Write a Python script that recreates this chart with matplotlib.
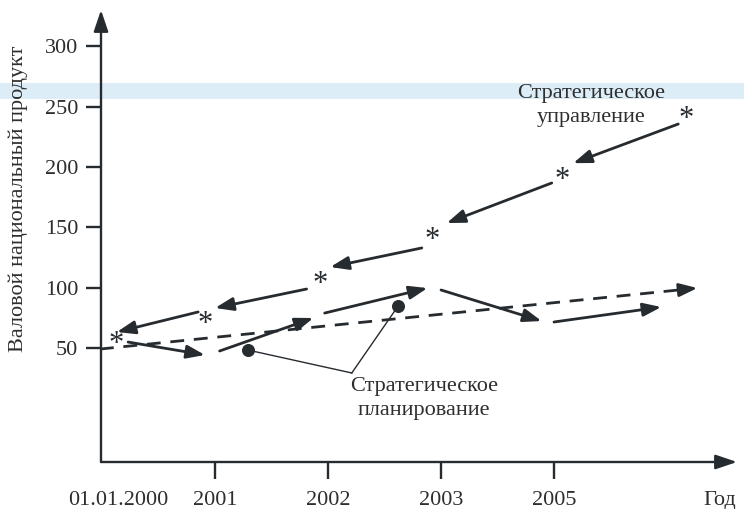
import matplotlib
matplotlib.use("Agg")
import matplotlib.pyplot as plt
from matplotlib.patches import Rectangle

# ---- data (schematic values) ----
x_tick_pos = [1, 2, 3, 4]
x_tick_labels = ["2001", "2002", "2003", "2005"]
x_edge_pos = [0.14, 5.47]
x_edge_labels = ["01.01.2000", "Год"]
y_ticks = [50, 100, 150, 200, 250, 300]

# strategic management: asterisk points and backward arrows
mgmt_star_x = [0.12, 0.91, 1.93, 2.92, 4.07, 5.17]
mgmt_star_y = [56, 72.5, 105.6, 142, 191.7, 242]
mgmt_arrow_x0 = [5.10, 3.98, 2.83, 1.81, 0.85]
mgmt_arrow_y0 = [235.6, 186.8, 133.0, 99.0, 80.0]
mgmt_arrow_x1 = [4.17, 3.05, 2.02, 1.00, 0.13]
mgmt_arrow_y1 = [203.2, 153.6, 117.2, 83.3, 63.4]

# strategic planning: forward arrows
plan_arrow_x0 = [0.23, 1.04, 1.97, 3.00, 4.00]
plan_arrow_y0 = [55.1, 47.7, 79.1, 98.2, 71.7]
plan_arrow_x1 = [0.91, 1.87, 2.88, 3.89, 4.95]
plan_arrow_y1 = [44.4, 75.0, 99.8, 72.5, 84.1]

# dashed trend
trend_x = [-0.02, 5.27]
trend_y = [49.3, 99.8]

# callout for planning
dot_x = [1.29, 2.62]
dot_y = [48.5, 84.9]
callout_x = 2.21
callout_y = 29.5

XLIM = (-0.01, 5.62)
YLIM = (-44.2, 330)

dark = "#262b30"
txt = "#2e2e2e"
FONT = "Liberation Serif"
FS = 16
plt.rcParams["font.family"] = [FONT, "DejaVu Serif"]

fig = plt.figure(figsize=(7.44, 5.09), dpi=100)
fig.patch.set_facecolor("white")

# watermark band (behind everything)
band = Rectangle((0, (509 - 99) / 509), 1, 16 / 509, transform=fig.transFigure,
                 facecolor="#dcedf7", edgecolor="none", zorder=-10)
fig.patches.append(band)

ax = fig.add_axes([101 / 744, (509 - 462) / 509, (737 - 101) / 744, (462 - 10) / 509])
ax.set_zorder(1)
ax.set_facecolor("none")
ax.set_xlim(*XLIM)
ax.set_ylim(*YLIM)
for s in ax.spines.values():
    s.set_visible(False)

axis_arrow = dict(arrowstyle="-|>,head_length=0.65,head_width=0.22", lw=1.7, color=dark,
                  shrinkA=0, shrinkB=0, mutation_scale=20)
ax.annotate("", xy=(XLIM[1], YLIM[0]), xytext=(XLIM[0], YLIM[0]), annotation_clip=False,
            arrowprops=axis_arrow)
ax.annotate("", xy=(XLIM[0], YLIM[1]), xytext=(XLIM[0], YLIM[0]), annotation_clip=False,
            arrowprops=axis_arrow)

ax.set_yticks(y_ticks)
ax.set_yticklabels([str(v) for v in y_ticks])
ax.tick_params(axis="y", length=10.5, width=1.7, color=dark, labelsize=FS, labelcolor=txt, pad=6)
ax.set_xticks(x_tick_pos)
ax.set_xticklabels(x_tick_labels)
ax.tick_params(axis="x", which="major", length=12, width=1.7, color=dark, labelsize=FS,
               labelcolor=txt, pad=9, direction="out")
ax.set_xticks(x_edge_pos, minor=True)
ax.set_xticklabels(x_edge_labels, minor=True)
ax.tick_params(axis="x", which="minor", length=0, labelsize=FS, labelcolor=txt, pad=21)

fig.text(18 / 744, 1 - 199 / 509, "Валовой национальный продукт", rotation=90, ha="center",
         va="center", fontsize=FS, color=txt)

arrow_kw = dict(arrowstyle="-|>,head_length=0.55,head_width=0.2", lw=2.0, color=dark,
                shrinkA=0, shrinkB=0, mutation_scale=20)

# dashed trend
frac = 0.12
ax.plot([trend_x[0], trend_x[1] - frac], [trend_y[0], trend_y[1] - (trend_y[1] - trend_y[0]) * frac / (trend_x[1] - trend_x[0])],
        ls=(0, (5, 3.5)), lw=2.0, color=dark)
ax.annotate("", xy=(trend_x[1], trend_y[1]),
            xytext=(trend_x[1] - frac, trend_y[1] - (trend_y[1] - trend_y[0]) * frac / (trend_x[1] - trend_x[0])),
            arrowprops=arrow_kw)

for x0, y0, x1, y1 in zip(mgmt_arrow_x0, mgmt_arrow_y0, mgmt_arrow_x1, mgmt_arrow_y1):
    ax.annotate("", xy=(x1, y1), xytext=(x0, y0), arrowprops=arrow_kw)
for x0, y0, x1, y1 in zip(plan_arrow_x0, plan_arrow_y0, plan_arrow_x1, plan_arrow_y1):
    ax.annotate("", xy=(x1, y1), xytext=(x0, y0), arrowprops=arrow_kw)

for x, y in zip(mgmt_star_x, mgmt_star_y):
    ax.text(x, y - 3, "*", ha="center", va="center", fontsize=22, color=dark)

# callout
ax.scatter(dot_x, dot_y, s=70, color=dark, zorder=5)
for x, y in zip(dot_x, dot_y):
    ax.plot([x, callout_x], [y, callout_y], lw=1.0, color=dark)

ax.text(2.85, 8.4, "Стратегическое\nпланирование", ha="center", va="center", fontsize=FS,
        color=txt, linespacing=1.3)
ax.text(4.33, 251, "Стратегическое\nуправление", ha="center", va="center", fontsize=FS,
        color=txt, linespacing=1.3)

fig.savefig("out.png", dpi=100)
